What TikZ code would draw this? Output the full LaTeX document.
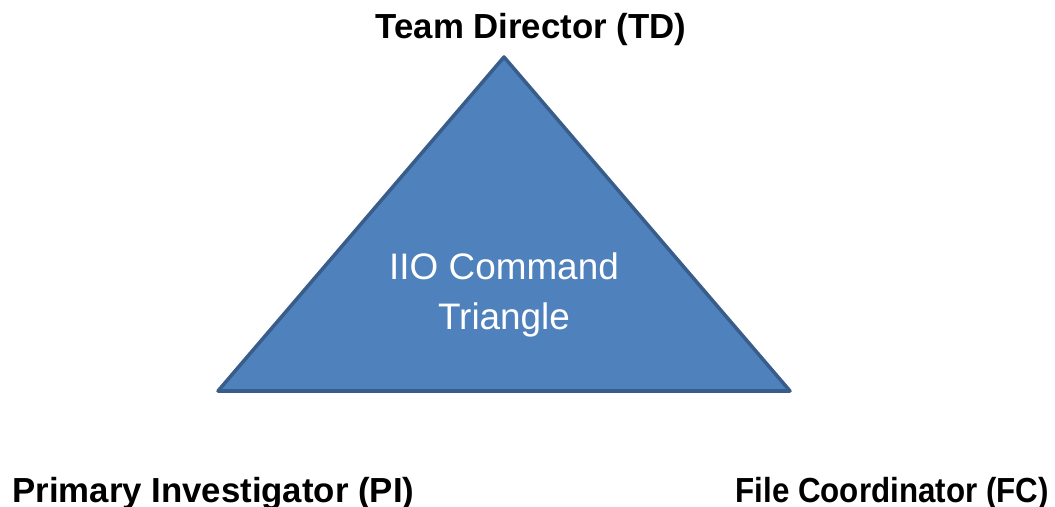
\documentclass[tikz,border=0pt]{standalone}
\usepackage{fontspec}
\usepackage{graphicx}
\setmainfont{Liberation Sans}
\definecolor{triFill}{HTML}{4F81BD}
\definecolor{triEdge}{HTML}{385D8A}
\usetikzlibrary{positioning}

\begin{document}
\begin{tikzpicture}[x=0.02cm, y=-0.02cm,
  corner/.style={font=\fontsize{19.8}{23}\selectfont\bfseries, inner sep=0pt},
  intext/.style={text=white, align=center, inner sep=0pt,
    font=\fontsize{21}{28}\selectfont}]
  \useasboundingbox (0,0) rectangle (1055,507);
  % triangle corners
  \coordinate (top) at (504,57);
  \coordinate (bl) at (218,391);
  \coordinate (br) at (790,391);
  \draw[triEdge, fill=triFill, line width=2pt, line join=round]
    (top) -- (br) -- (bl) -- cycle;
  \node[intext] (tri) at (504,295) {IIO Command\\Triangle};
  % role labels
  \node[corner] (td) at (531,30) {Team Director (TD)};
  \node[corner, anchor=west] (pi) at (12,494) {Primary Investigator (PI)};
  \node[corner, anchor=east] (fc) at (1049,494)
    {\scalebox{0.9}[1]{File Coordinator (FC)}};
\end{tikzpicture}
\end{document}
